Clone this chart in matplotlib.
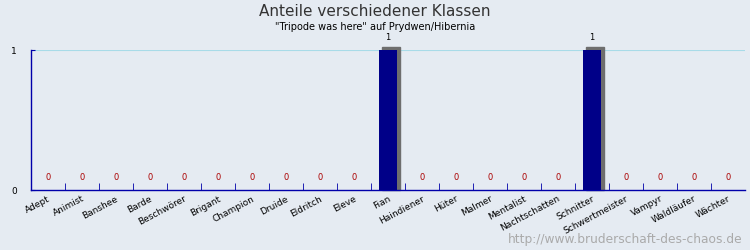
import matplotlib.pyplot as plt
from matplotlib.patches import Rectangle

klassen = ["Adept", "Animist", "Banshee", "Barde", "Beschwörer", "Brigant",
           "Champion", "Druide", "Eldritch", "Eleve", "Fian", "Haindiener",
           "Hüter", "Malmer", "Mentalist", "Nachtschatten", "Schnitter",
           "Schwertmeister", "Vampyr", "Waldläufer", "Wächter"]
anzahl = [0, 0, 0, 0, 0, 0, 0, 0, 0, 0, 1, 0, 0, 0, 0, 0, 1, 0, 0, 0, 0]

bg = "#e5ebf2"
fig = plt.figure(figsize=(7.5, 2.5), dpi=100, facecolor=bg)
ax = fig.add_axes([30.7 / 750, 60 / 250, 714 / 750, 140 / 250])
ax.set_facecolor(bg)

x = list(range(len(klassen)))
bar_w = 0.53
# Schatten, ein paar Pixel nach rechts/oben versetzt
for xi, v in zip(x, anzahl):
    if v > 0:
        ax.add_patch(Rectangle((xi - bar_w / 2 + 3 / 34, 0), bar_w, v + 3 / 140,
                               color="#6e6e6e", clip_on=False, zorder=2))
ax.bar(x, anzahl, width=bar_w, color="#000088", zorder=3)

for xi, v in zip(x, anzahl):
    if v > 0:
        ax.text(xi, v + 0.06, str(v), ha="center", va="bottom", fontsize=6, color="black")
    else:
        ax.text(xi, 0.06, str(v), ha="center", va="bottom", fontsize=6, color="#aa0000")

ax.set_xlim(-0.5, len(klassen) - 0.5)
ax.set_ylim(0, 1)
ax.axhline(1, color="#a8dbe8", lw=0.8, zorder=1)

for s in ["top", "right"]:
    ax.spines[s].set_visible(False)
for s in ["left", "bottom"]:
    ax.spines[s].set_color("#0000aa")
    ax.spines[s].set_linewidth(1)

ax.set_xticks([i + 0.5 for i in x[:-1]], minor=True)
ax.set_xticks(x)
ax.set_xticklabels(klassen, rotation=28, ha="right", rotation_mode="anchor", fontsize=6.5)
ax.tick_params(axis="x", which="major", length=0, pad=3)
ax.tick_params(axis="x", which="minor", direction="in", length=5, color="#0000aa")
ax.set_yticks([0, 1])
ax.tick_params(axis="y", direction="in", length=3, color="#0000aa", labelsize=6.5, pad=10)

fig.text(0.5, 0.955, "Anteile verschiedener Klassen", ha="center", va="center",
         fontsize=11, color="#333333")
fig.text(0.5, 0.89, "\"Tripode was here\" auf Prydwen/Hibernia", ha="center", va="center",
         fontsize=7, color="black")
fig.text(0.99, 0.04, "http://www.bruderschaft-des-chaos.de", ha="right", va="center",
         fontsize=8.8, color="#aaaaaa")

fig.savefig("out.png", dpi=100, facecolor=bg)
